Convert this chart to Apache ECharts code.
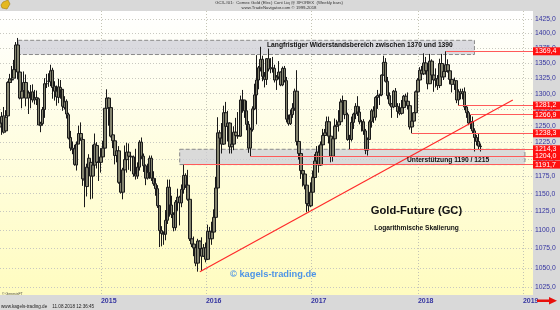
<!DOCTYPE html>
<html><head><meta charset="utf-8">
<script src="https://cdn.jsdelivr.net/npm/echarts@6/dist/echarts.min.js"></script>
<style>html,body{margin:0;padding:0;background:#d9d9d9}#c{width:560px;height:310px}</style>
</head><body><div id="c"></div>
<script>
// ---- data (weekly bars, [open, high, low, close]) ----
const firstWeek = '2014-01-13';
const weekSlots = 265; // weeks shown on the axis (incl. empty future weeks)
const bars2014 = [
[1248,1259,1234,1254],[1254,1271,1236,1264],[1265,1279,1238,1240],[1242,1274,1240,1263],
[1265,1320,1260,1318],[1318,1332,1310,1324],[1323,1345,1318,1322],[1325,1355,1325,1339],
[1339,1385,1335,1380],[1380,1392,1323,1335],[1335,1338,1291,1293],[1293,1305,1277,1304],
[1305,1336,1298,1318],[1318,1331,1280,1293],[1293,1305,1268,1301],[1301,1314,1277,1302],
[1303,1315,1286,1290],[1290,1306,1283,1293],[1294,1305,1282,1291],[1292,1294,1251,1251],
[1250,1256,1240,1253],[1253,1279,1250,1275],[1275,1325,1262,1316],[1316,1332,1309,1316],
[1320,1333,1311,1320],[1319,1347,1312,1337],[1338,1342,1292,1310],[1312,1320,1289,1304],
[1304,1313,1281,1295],[1294,1324,1285,1311],[1310,1322,1292,1306],[1307,1306,1273,1280],
[1278,1296,1275,1287],[1288,1291,1261,1268],[1267,1270,1229,1231],[1232,1242,1212,1216],
[1216,1226,1207,1214],[1215,1221,1190,1192],[1191,1226,1183,1222],[1222,1250,1222,1238],
[1238,1255,1227,1231],[1229,1234,1161,1171],[1170,1178,1131,1169],[1160,1193,1146,1188],
[1187,1207,1180,1201],[1195,1200,1142,1175],[1175,1221,1143,1191],[1191,1238,1189,1222],
[1220,1225,1186,1195],[1196,1199,1168,1195],[1195,1216,1180,1203]
];
const bars2015 = [
[1203,1227,1201,1216],[1216,1277,1215,1277],[1277,1307,1276,1293],[1293,1294,1250,1278],
[1278,1285,1232,1234],[1236,1244,1216,1227],[1227,1229,1192,1205],[1205,1220,1195,1212],
[1212,1219,1164,1166],[1166,1174,1150,1152],[1152,1187,1142,1184],[1184,1220,1183,1199],
[1199,1224,1180,1210],[1210,1223,1184,1204],[1204,1209,1182,1203],[1203,1205,1174,1178],
[1178,1215,1170,1175],[1175,1195,1171,1188],[1188,1228,1183,1225],[1225,1232,1200,1204],
[1204,1208,1181,1190],[1190,1192,1162,1172],[1172,1193,1170,1180],[1180,1205,1171,1201],
[1201,1205,1168,1172],[1172,1182,1161,1164],[1164,1172,1147,1157],[1157,1162,1130,1133],
[1133,1134,1077,1099],[1099,1105,1078,1095],[1095,1098,1080,1094],[1094,1127,1086,1113],
[1113,1170,1108,1159],[1159,1170,1118,1134],[1134,1147,1116,1121],[1121,1124,1098,1103],
[1103,1141,1099,1138],[1138,1157,1126,1145],[1145,1147,1106,1137],[1137,1163,1131,1156],
[1156,1191.7,1150,1176],[1176,1179,1158,1162],[1162,1184,1140,1142],[1142,1145,1085,1088],
[1088,1098,1077,1081],[1081,1091,1065,1076],[1076,1080,1052,1056],[1056,1088,1045,1085],
[1085,1086,1061,1075],[1075,1090,1046,1065],[1065,1081,1064,1076],[1076,1083,1057,1061]
];
const bars2016 = [
[1061,1107,1060,1098],[1098,1104,1073,1088],[1088,1111,1080,1097],[1097,1128,1096,1117],
[1117,1174,1110,1158],[1158,1263,1152,1239],[1239,1243,1192,1231],[1231,1254,1208,1222],
[1222,1281,1221,1270],[1270,1287,1242,1249],[1249,1273,1226,1254],[1254,1255,1208,1218],
[1218,1245,1208,1222],[1222,1249,1213,1240],[1240,1262,1224,1235],[1235,1271,1230,1234],
[1234,1297,1233,1290],[1290,1306,1270,1290],[1290,1290,1262,1273],[1273,1289,1243,1252],
[1252,1257,1209,1216],[1216,1247,1204.0,1244],[1244,1280,1241,1276],[1276,1316,1274,1298],
[1298,1363,1252,1322],[1322,1345,1307,1342],[1342,1377,1336,1356],[1356,1362,1320,1328],
[1328,1335,1310,1323],[1323,1358,1314,1357],[1357,1374,1336,1340],[1340,1358,1333,1342],
[1342,1360,1334,1341],[1341,1347,1318,1322],[1322,1330,1306,1327],[1327,1353,1323,1335],
[1335,1336,1312,1314],[1314,1344,1312,1341],[1341,1345,1318,1321],[1321,1327,1255,1260],
[1260,1267,1250,1253],[1253,1275,1251,1267],[1267,1285,1262,1277],[1277,1308,1273,1304],
[1304,1338,1220,1226],[1226,1234,1199,1208],[1208,1221,1171,1183],[1183,1190,1160,1178],
[1178,1181,1156,1162],[1162,1175,1124,1136],[1136,1146,1125,1133],[1133,1166,1131,1152]
];
const bars2017 = [
[1152,1183,1147,1173],[1173,1207,1173,1197],[1197,1219,1195,1210],[1210,1220,1180,1191],
[1191,1226,1190,1221],[1221,1245,1215,1235],[1235,1245,1221,1239],[1239,1264,1235,1256],
[1256,1264,1223,1234],[1234,1235,1195,1204],[1204,1233,1196,1230],[1230,1261,1228,1249],
[1249,1259,1240,1251],[1251,1274,1241,1256],[1256,1292,1254,1287],[1287,1297,1276,1289],
[1289,1290,1260,1267],[1267,1270,1227,1229],[1229,1236,1214.3,1229],[1229,1264,1226,1255],
[1255,1270,1245,1268],[1268,1285,1260,1280],[1280,1296,1265,1271],[1271,1280,1252,1256],
[1256,1259,1241,1256],[1256,1260,1236,1242],[1242,1245,1207,1213],[1213,1232,1205,1229],
[1229,1259,1229,1256],[1256,1276,1247,1273],[1273,1280,1254,1263],[1263,1296,1258,1294],
[1294,1306,1276,1297],[1297,1300,1282,1298],[1298,1331,1296,1330],[1330,1362,1329,1351],
[1351,1358,1318,1320],[1320,1327,1291,1297],[1297,1302,1281,1284],[1284,1285,1262,1279],
[1279,1306,1277,1304],[1304,1309,1279,1280],[1280,1285,1262,1272],[1272,1285,1266,1269],
[1269,1290,1267,1278],[1278,1298,1270,1296],[1296,1300,1281,1288],[1288,1302,1275,1281],
[1281,1284,1244,1248],[1248,1262,1238.3,1257],[1257,1271,1252,1270],[1270,1305,1270,1303]
];
const bars2018 = [
[1303,1325,1302,1322],[1322,1343,1311,1338],[1338,1345,1322,1332],[1332,1366,1330,1350],
[1350,1360,1331,1337],[1337,1340,1307,1316],[1316,1365,1316,1353],[1353,1356,1321,1330],
[1330,1338,1303,1322],[1322,1341,1310,1324],[1324,1330,1306,1313],[1313,1357,1309,1349],
[1349,1365,1322,1327],[1327,1347,1322,1336],[1336,1369.4,1336,1347],[1347,1356,1334,1337],
[1337,1338,1315,1323],[1323,1327,1302,1315],[1315,1326,1306,1321],[1321,1321,1285,1290],
[1290,1307,1281.2,1303],[1303,1308,1291,1300],[1300,1308,1291,1303],[1303,1310,1274,1279],
[1279,1282,1262,1270],[1270,1273,1251,1254],[1254,1266.9,1245,1256],[1256,1264,1238,1242],
[1242,1246,1211,1232],[1232,1236,1220,1226],[1226,1238,1214,1219],[1219,1223,1211,1218.2]
];
const priceTicks = [1025,1050,1075,1100,1125,1150,1175,1200,1225,1250,1275,1300,1325,1350,1375,1400,1425];
// horizontal levels: [value, week index where the line starts]
const levelValues = [1369.4, 1281.2, 1266.9, 1238.3, 1214.3, 1204.0, 1191.7];
const levelStarts = [221, 227, 233, 204, 173, 124, 91];
const lastPrice = 1218.2;
const resistanceZone = [1364, 1388];
const supportZone = [1191.7, 1214.3];
const trendFrom = [99, 1045];
const trendTo = [254, 1290];

// ---- build ----
const allBars = [].concat(bars2014, bars2015, bars2016, bars2017, bars2018);
const weeks = [];
{
  const t0 = Date.parse(firstWeek);
  for (let i = 0; i < weekSlots; i++) weeks.push(new Date(t0 + i * 7 * 864e5).toISOString().slice(0, 10));
}
function yearStart(value) {
  const d = new Date(value), e = new Date(d.getTime() + 6 * 864e5);
  if (e.getUTCFullYear() !== d.getUTCFullYear()) return String(e.getUTCFullYear());
  if (d.getUTCMonth() === 0 && d.getUTCDate() === 1) return String(d.getUTCFullYear());
  return '';
}
const isYear = (i, v) => yearStart(weeks[i]) !== '';
const candle = allBars.map(b => [b[0], b[3], b[2], b[1]]);
const fmt = v => v.toFixed(1).replace('.', ',');
const lastIdx = weekSlots - 1;

const levelLines = levelValues.map((v, i) => [
  { coord: [levelStarts[i], v], lineStyle: { color: '#ff5a5a', width: 1, type: 'solid' },
    label: { show: true, position: 'end', distance: 0, formatter: fmt(v), color: '#fff', backgroundColor: '#ff1010',
      fontSize: 7, fontFamily: 'Liberation Sans', padding: [1, 5, 0, 2], lineHeight: 7 } },
  { coord: [lastIdx, v] }
]);
levelLines.push([
  { coord: [allBars.length - 1, lastPrice], lineStyle: { opacity: 0 },
    label: { show: true, position: 'end', distance: 0, formatter: fmt(lastPrice), color: '#fff', backgroundColor: '#111',
      fontSize: 7, fontFamily: 'Liberation Sans', padding: [1, 5, 0, 2], lineHeight: 7 } },
  { coord: [lastIdx, lastPrice] }
]);

const chart = echarts.init(document.getElementById('c'), null, { renderer: 'canvas' });
const txt = (o) => Object.assign({ type: 'text', silent: true, z: 100 }, o);
chart.setOption({
  animation: false,
  backgroundColor: '#d9d9d9',
  grid: { left: 0, right: 27, top: 11, bottom: 15, show: true, borderWidth: 0,
    backgroundColor: new echarts.graphic.LinearGradient(0, 0, 0, 1, [
      { offset: 0, color: '#ffffff' }, { offset: 1, color: '#fffcc0' }]) },
  xAxis: {
    type: 'category', data: weeks, boundaryGap: false,
    axisLine: { show: false }, axisTick: { show: false },
    axisLabel: { interval: isYear, formatter: yearStart, align: 'left', margin: 3,
      color: '#3535a0', fontSize: 7, fontWeight: 'bold', fontFamily: 'Liberation Sans' },
    splitLine: { show: true, interval: isYear, lineStyle: { color: '#c4c4b4', type: [1, 2], width: 1 } }
  },
  yAxis: {
    type: 'log', logBase: 10, position: 'right', min: 1015.5, max: 1438.8,
    axisLine: { show: false },
    axisTick: { show: false, customValues: priceTicks },
    axisLabel: { customValues: priceTicks, formatter: fmt, margin: 2, color: '#3535a0', fontSize: 6.8,
      fontFamily: 'Liberation Sans' },
    splitLine: { show: true, lineStyle: { color: '#c8c8c0', type: [1, 2], width: 1 } }
  },
  series: [{
    type: 'candlestick', data: candle, barWidth: 3,
    itemStyle: { color: '#84846f', color0: '#84846f', borderColor: '#1a1a1a', borderColor0: '#1a1a1a', borderWidth: 1 },
    markArea: { silent: true,
      itemStyle: { color: 'rgba(205,205,215,0.75)', borderColor: '#8a8a8a', borderWidth: 1, borderType: [4, 2] },
      data: [
        [{ coord: [9, resistanceZone[1]] }, { coord: [235, resistanceZone[0]] }],
        [{ coord: [89, supportZone[1]] }, { coord: [260, supportZone[0]] }]
      ] },
    markLine: { silent: true, symbol: 'none', animation: false,
      data: levelLines.concat([[
        { coord: trendFrom, lineStyle: { color: '#ff2a2a', width: 1.2, type: 'solid' }, label: { show: false } },
        { coord: trendTo }
      ]]) }
  }],
  graphic: [
    txt({ left: 267, top: 42, style: { text: 'Langfristiger Widerstandsbereich zwischen 1370 und 1390', fill: '#111',
      font: 'bold 6.7px "Liberation Sans"' } }),
    txt({ left: 407, top: 157, style: { text: 'Unterstützung 1190 / 1215', fill: '#111', font: 'bold 6.7px "Liberation Sans"' } }),
    txt({ x: 416.5, y: 210.5, style: { text: 'Gold-Future (GC)', fill: '#111', font: 'bold 11.2px "Liberation Sans"',
      align: 'center', verticalAlign: 'middle' } }),
    txt({ x: 416.5, y: 228, style: { text: 'Logarithmische Skalierung', fill: '#111', font: 'bold 6.6px "Liberation Sans"',
      align: 'center', verticalAlign: 'middle' } }),
    txt({ x: 230, y: 274.5, style: { text: '© kagels-trading.de', fill: '#4f95e6', font: 'bold 9.3px "Liberation Sans"',
      verticalAlign: 'middle' } }),
    txt({ x: 279, y: 3, style: { text: 'GC3-#01:  Comex Gold (Elec) Cont Liq @ XFOREX  (Weekly bars)', fill: '#333',
      font: '4.3px "Liberation Sans"', align: 'center', verticalAlign: 'middle' } }),
    txt({ x: 279, y: 8.3, style: { text: 'www.TradeNavigator.com © 1999-2018', fill: '#333',
      font: '4.3px "Liberation Sans"', align: 'center', verticalAlign: 'middle' } }),
    txt({ x: 2, y: 294, style: { text: '© GenesisFT', fill: '#444', font: '3.5px "Liberation Sans"', verticalAlign: 'middle' } }),
    txt({ x: 1, y: 306.5, style: { text: 'www.kagels-trading.de    11.08.2018 12:36:45', fill: '#222',
      font: '4.6px "Liberation Sans"', verticalAlign: 'middle' } }),
    { type: 'polygon', silent: true, z: 100, shape: { points: [[537,299.5],[549,299.5],[549,297],[557,300.7],[549,304.5],[549,302],[537,302]] },
      style: { fill: '#e8100c' } },
    { type: 'polygon', silent: true, z: 100, shape: { points: [[3,2],[8,0],[10,4],[7,9],[2,8],[1,5]] },
      style: { fill: '#e4b820', stroke: '#a07a10', lineWidth: 0.6 } }
  ]
});
</script></body></html>
